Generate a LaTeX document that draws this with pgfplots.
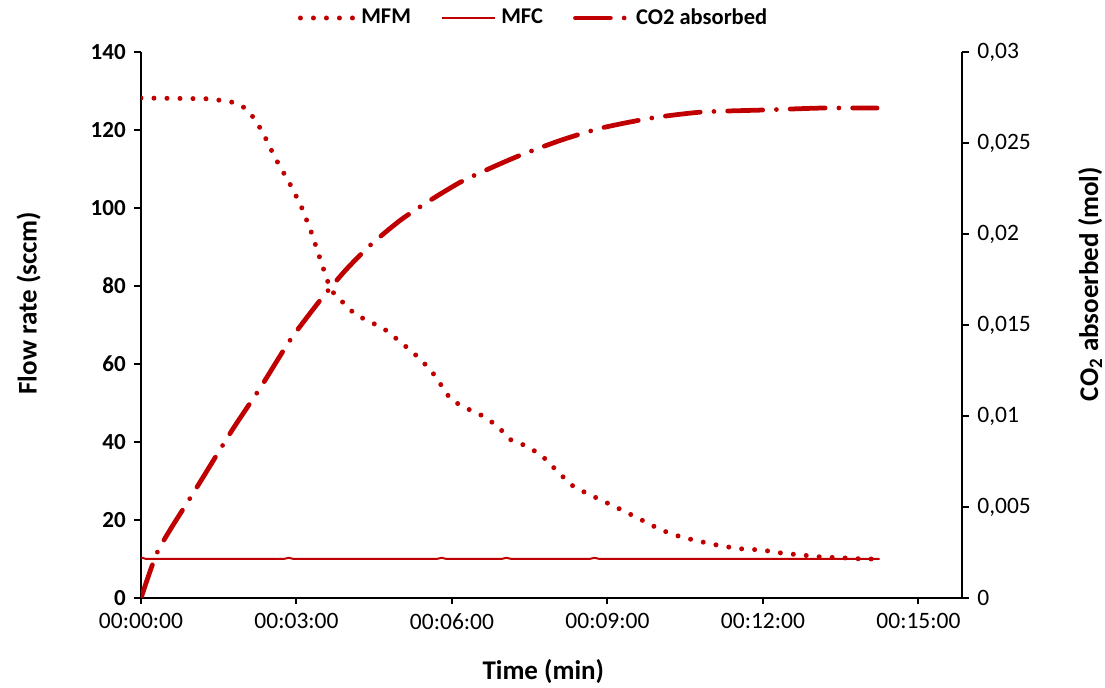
\documentclass[border=0pt]{standalone}
\usepackage{pgfplots}
\pgfplotsset{compat=1.18}
\usepackage{fontspec}
\setmainfont{Carlito}
\definecolor{dred}{RGB}{192,0,0}

% time in minutes
\pgfplotstableread{
t flow
0.00 128.2
1.34 128.0
1.82 127.0
2.01 125.6
2.21 122.6
2.40 118.0
2.59 112.8
2.88 106.0
3.08 100.8
3.27 94.4
3.43 88.0
3.56 82.8
3.66 79.0
3.85 76.4
4.14 72.6
4.43 70.8
4.72 68.7
5.01 65.6
5.30 62.3
5.59 58.5
5.79 54.6
5.98 50.8
6.27 48.7
6.56 46.9
6.85 44.4
7.14 40.5
7.43 39.0
7.72 36.7
8.01 32.8
8.30 29.0
8.59 26.9
8.88 25.1
9.27 22.6
9.66 20.0
10.04 17.4
10.43 15.6
10.82 14.4
11.21 13.3
11.59 12.6
11.98 12.3
12.37 11.5
12.75 11.0
13.14 10.5
13.53 10.3
13.92 10.0
14.20 10.0
}\mfm

\pgfplotstableread{
t flow
0.00 10.4
0.10 10.0
2.75 10.0
2.85 10.3
2.95 10.0
5.70 10.0
5.80 10.3
5.90 10.0
6.95 10.0
7.05 10.3
7.15 10.0
8.65 10.0
8.75 10.3
8.85 10.0
14.25 10.0
}\mfc

\pgfplotstableread{
t co2
0.00 0.0
0.29 0.00236
0.56 0.00374
1.01 0.00577
1.76 0.00923
2.30 0.01154
2.88 0.01418
3.46 0.01637
3.95 0.01802
4.43 0.0194
5.01 0.02077
5.59 0.02187
6.17 0.02286
6.75 0.02363
7.33 0.02434
8.11 0.02516
8.88 0.02582
9.85 0.02637
10.82 0.0267
11.98 0.02681
13.14 0.02692
14.20 0.02692
}\coo

\begin{document}
\begin{tikzpicture}
\path[use as bounding box] (-56.4pt,-36pt) rectangle (385.6pt,239.2pt);
\pgfplotsset{
  common/.style={
    scale only axis, width=328.4pt, height=218.4pt,
    xmin=0, xmax=15.84,
    axis line style={line width=0.8pt, -},
    tick align=outside, major tick length=2.6pt,
    tick style={line width=0.8pt, black},
    /pgf/number format/assume math mode=true,
    label style={font=\bfseries\fontsize{10.8}{13}\selectfont},
  },
  mfmstyle/.style={dred, line width=2pt, line cap=round, dash pattern=on 0pt off 5.2pt},
  mfcstyle/.style={dred, line width=0.8pt},
  co2style/.style={dred, line width=1.9pt, line cap=round, dash pattern=on 14pt off 5.5pt on 0pt off 5.5pt},
}
\begin{axis}[
  common,
  ymin=0, ymax=140,
  axis x line*=bottom, axis y line*=left,
  xtick={0,3,6,9,12,15},
  xticklabels={00:00:00,00:03:00,00:06:00,00:09:00,00:12:00,00:15:00},
  xticklabel style={font=\fontsize{9.4}{11}\selectfont},
  ytick={0,20,...,140},
  yticklabel style={font=\bfseries\fontsize{9.2}{11}\selectfont},
  xlabel={Time (min)},
  ylabel={Flow rate (sccm)},
  xlabel style={at={(axis description cs:0.49,-0.1355)}, anchor=center},
  ylabel style={at={(axis description cs:-0.137,0.54)}, anchor=center},
]
\addplot[mfmstyle] table[x=t, y=flow] {\mfm};
\addplot[mfcstyle] table[x=t, y=flow] {\mfc};
\end{axis}
\begin{axis}[
  common,
  ymin=0, ymax=0.03,
  axis x line=none, axis y line*=right,
  scaled y ticks=false,
  ytick={0,0.005,0.01,0.015,0.02,0.025,0.03},
  yticklabels={0,{0,005},{0,01},{0,015},{0,02},{0,025},{0,03}},
  yticklabel style={font=\fontsize{9.4}{11}\selectfont},
  ylabel={CO\textsubscript{2} absoerbed (mol)},
  ylabel style={at={(axis description cs:1.156,0.575)}, anchor=center},
  legend columns=3,
  legend style={draw=none, at={(0.48,1)}, anchor=center, yshift=13.6pt,
    font=\bfseries\fontsize{9}{11}\selectfont,
    /tikz/every even column/.append style={column sep=10pt}},
  legend image code/.code={\draw[#1] (0cm,0cm) -- (0.75cm,0cm);},
]
\addlegendimage{mfmstyle}
\addlegendentry{MFM}
\addlegendimage{mfcstyle}
\addlegendentry{MFC}
\addplot[co2style, smooth, tension=0.4] table[x=t, y=co2] {\coo};
\addlegendentry{CO2 absorbed}
\end{axis}
\end{tikzpicture}
\end{document}
